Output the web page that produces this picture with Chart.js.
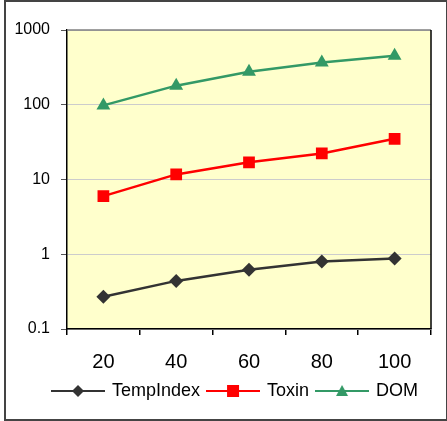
<!DOCTYPE html>
<html>
<head>
<meta charset="utf-8">
<script src="https://cdn.jsdelivr.net/npm/chart.js@4.4.0/dist/chart.umd.min.js"></script>
<style>
  html, body { margin: 0; padding: 0; background: #fff; }
  #frame { position: absolute; left: 4px; top: 0; width: 440px; height: 417px; border: 2px solid #444; }
  #wrap { position: absolute; left: 0; top: 0; width: 447px; height: 421px; }
</style>
</head>
<body>
<div id="frame"></div>
<div id="wrap"><canvas id="chart"></canvas></div>
<script>
const categories = ['20', '40', '60', '80', '100'];
const tempIndex = [0.27, 0.44, 0.62, 0.80, 0.88];
const toxin = [6.0, 11.7, 17.0, 22.3, 35];
const dom = [98, 180, 276, 368, 452];
const yTicks = [0.1, 1, 10, 100, 1000];

// legend symbol: short line with the marker in the middle
function legendSymbol(color, style) {
    const c = document.createElement('canvas');
    c.width = 54; c.height = 16;
    const ctx = c.getContext('2d');
    ctx.strokeStyle = color;
    ctx.lineWidth = 2;
    ctx.beginPath();
    ctx.moveTo(0, 8); ctx.lineTo(54, 8);
    ctx.stroke();
    ctx.fillStyle = color;
    ctx.beginPath();
    if (style === 'rectRot') {
        ctx.moveTo(27, 2); ctx.lineTo(33, 8); ctx.lineTo(27, 14); ctx.lineTo(21, 8);
    } else if (style === 'rect') {
        ctx.rect(21, 2, 12, 12);
    } else {
        ctx.moveTo(27, 2); ctx.lineTo(33, 13); ctx.lineTo(21, 13);
    }
    ctx.closePath();
    ctx.fill();
    return c;
}

// plot area background and top/right frame
const plotArea = {
    id: 'plotArea',
    afterUpdate(chart) {
        // legend sits a little right of the frame centre
        chart.legend.left += 15;
        chart.legend.right += 15;
    },
    beforeDraw(chart) {
        const {ctx, chartArea: a} = chart;
        ctx.save();
        ctx.fillStyle = '#FFFFCC';
        ctx.fillRect(a.left, a.top, a.right - a.left, a.bottom - a.top);
        ctx.restore();
    },
    afterDatasetsDraw(chart) {
        const {ctx, chartArea: a} = chart;
        ctx.save();
        ctx.lineWidth = 1.5;
        ctx.strokeStyle = '#808080';
        ctx.beginPath();
        ctx.moveTo(a.left, a.top); ctx.lineTo(a.right, a.top);
        ctx.stroke();
        ctx.strokeStyle = '#000';
        ctx.beginPath();
        ctx.moveTo(a.right, a.top); ctx.lineTo(a.right, a.bottom);
        ctx.stroke();
        ctx.restore();
    }
};

const series = [
    {label: 'TempIndex', data: tempIndex, color: '#333333', style: 'rectRot', r: 7},
    {label: 'Toxin', data: toxin, color: '#FF0000', style: 'rect', r: 8.3},
    {label: 'DOM', data: dom, color: '#339966', style: 'triangle', r: 8}
];

new Chart(document.getElementById('chart'), {
    type: 'line',
    data: {
        labels: categories,
        datasets: series.map(s => ({
            label: s.label,
            data: s.data,
            borderColor: s.color,
            backgroundColor: s.color,
            borderWidth: 2.5,
            pointStyle: s.style,
            pointRadius: s.r,
            pointBorderWidth: 0,
            pointBackgroundColor: s.color,
            tension: 0,
            fill: false,
            legendSymbol: legendSymbol(s.color, s.style)
        }))
    },
    options: {
        responsive: true,
        maintainAspectRatio: false,
        animation: false,
        events: [],
        layout: { padding: { left: 10, right: 16, top: 30, bottom: 11 } },
        plugins: {
            tooltip: { enabled: false },
            legend: {
                position: 'bottom',
                labels: {
                    usePointStyle: true,
                    pointStyleWidth: 50,
                    padding: 8,
                    color: '#000',
                    font: { family: 'Liberation Sans, Arial', size: 18 },
                    generateLabels(chart) {
                        return chart.data.datasets.map((ds, i) => ({
                            text: ds.label,
                            fillStyle: ds.borderColor,
                            strokeStyle: ds.borderColor,
                            lineWidth: 0,
                            pointStyle: ds.legendSymbol,
                            hidden: false,
                            datasetIndex: i,
                            fontColor: '#000'
                        }));
                    }
                }
            }
        },
        scales: {
            x: {
                type: 'category',
                offset: true,
                grid: { offset: true, drawOnChartArea: false, drawTicks: true, tickLength: 6, tickColor: '#000', lineWidth: 1.5 },
                border: { color: '#000', width: 1.5 },
                ticks: { color: '#000', padding: 15, font: { family: 'Liberation Sans, Arial', size: 20 } },
                afterFit(scale) { scale.height = 45; }
            },
            y: {
                type: 'logarithmic',
                min: 0.1,
                max: 1000,
                grid: { color: '#cccccc', lineWidth: 1, tickLength: 6, tickColor: '#555' },
                border: { color: '#000', width: 1.5 },
                ticks: {
                    color: '#000',
                    padding: 11,
                    font: { family: 'Liberation Sans, Arial', size: 16 },
                    callback: v => String(v)
                },
                afterBuildTicks(scale) { scale.ticks = yTicks.map(v => ({value: v, major: true})); },
                afterFit(scale) { scale.width = 57; }
            }
        }
    },
    plugins: [plotArea]
});
</script>
</body>
</html>
